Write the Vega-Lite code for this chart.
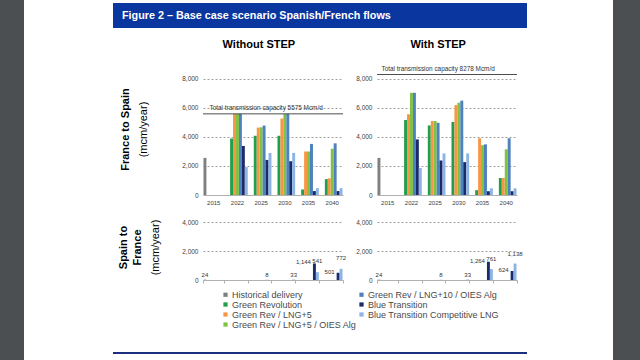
{
 "$schema": "https://vega.github.io/schema/vega-lite/v6.json",
 "background": "white",
 "padding": 0,
 "spacing": 86,
 "config": {
  "font": "Liberation Sans",
  "view": {"stroke": null},
  "title": {"font": "Liberation Sans", "color": "#000000", "fontWeight": "bold", "fontSize": 11, "subtitleFont": "Liberation Sans", "subtitleColor": "#000000", "subtitleFontSize": 11, "subtitleFontWeight": "normal", "anchor": "middle"},
  "axis": {"labelFont": "Liberation Sans", "labelColor": "#404040"},
  "legend": {"labelFont": "Liberation Sans"}
 },
 "datasets": {
  "flows": [
   {"scenario": "Without STEP", "direction": "France to Spain", "year": "2015", "series": "Historical delivery", "value": 2550},
   {"scenario": "Without STEP", "direction": "France to Spain", "year": "2022", "series": "Green Revolution", "value": 3880},
   {"scenario": "Without STEP", "direction": "France to Spain", "year": "2022", "series": "Green Rev / LNG+5", "value": 5575},
   {"scenario": "Without STEP", "direction": "France to Spain", "year": "2022", "series": "Green Rev / LNG+5 / OIES Alg", "value": 5575},
   {"scenario": "Without STEP", "direction": "France to Spain", "year": "2022", "series": "Green Rev / LNG+10 / OIES Alg", "value": 5575},
   {"scenario": "Without STEP", "direction": "France to Spain", "year": "2022", "series": "Blue Transition", "value": 3370},
   {"scenario": "Without STEP", "direction": "France to Spain", "year": "2022", "series": "Blue Transition Competitive LNG", "value": 1920},
   {"scenario": "Without STEP", "direction": "France to Spain", "year": "2025", "series": "Green Revolution", "value": 4070},
   {"scenario": "Without STEP", "direction": "France to Spain", "year": "2025", "series": "Green Rev / LNG+5", "value": 4630},
   {"scenario": "Without STEP", "direction": "France to Spain", "year": "2025", "series": "Green Rev / LNG+5 / OIES Alg", "value": 4650},
   {"scenario": "Without STEP", "direction": "France to Spain", "year": "2025", "series": "Green Rev / LNG+10 / OIES Alg", "value": 4770},
   {"scenario": "Without STEP", "direction": "France to Spain", "year": "2025", "series": "Blue Transition", "value": 2410},
   {"scenario": "Without STEP", "direction": "France to Spain", "year": "2025", "series": "Blue Transition Competitive LNG", "value": 2890},
   {"scenario": "Without STEP", "direction": "France to Spain", "year": "2030", "series": "Green Revolution", "value": 4070},
   {"scenario": "Without STEP", "direction": "France to Spain", "year": "2030", "series": "Green Rev / LNG+5", "value": 5250},
   {"scenario": "Without STEP", "direction": "France to Spain", "year": "2030", "series": "Green Rev / LNG+5 / OIES Alg", "value": 5575},
   {"scenario": "Without STEP", "direction": "France to Spain", "year": "2030", "series": "Green Rev / LNG+10 / OIES Alg", "value": 5575},
   {"scenario": "Without STEP", "direction": "France to Spain", "year": "2030", "series": "Blue Transition", "value": 2320},
   {"scenario": "Without STEP", "direction": "France to Spain", "year": "2030", "series": "Blue Transition Competitive LNG", "value": 2890},
   {"scenario": "Without STEP", "direction": "France to Spain", "year": "2035", "series": "Green Revolution", "value": 380},
   {"scenario": "Without STEP", "direction": "France to Spain", "year": "2035", "series": "Green Rev / LNG+5", "value": 2990},
   {"scenario": "Without STEP", "direction": "France to Spain", "year": "2035", "series": "Green Rev / LNG+5 / OIES Alg", "value": 2990},
   {"scenario": "Without STEP", "direction": "France to Spain", "year": "2035", "series": "Green Rev / LNG+10 / OIES Alg", "value": 3510},
   {"scenario": "Without STEP", "direction": "France to Spain", "year": "2035", "series": "Blue Transition", "value": 270},
   {"scenario": "Without STEP", "direction": "France to Spain", "year": "2035", "series": "Blue Transition Competitive LNG", "value": 470},
   {"scenario": "Without STEP", "direction": "France to Spain", "year": "2040", "series": "Green Revolution", "value": 1090},
   {"scenario": "Without STEP", "direction": "France to Spain", "year": "2040", "series": "Green Rev / LNG+5", "value": 1150},
   {"scenario": "Without STEP", "direction": "France to Spain", "year": "2040", "series": "Green Rev / LNG+5 / OIES Alg", "value": 3180},
   {"scenario": "Without STEP", "direction": "France to Spain", "year": "2040", "series": "Green Rev / LNG+10 / OIES Alg", "value": 3550},
   {"scenario": "Without STEP", "direction": "France to Spain", "year": "2040", "series": "Blue Transition", "value": 270},
   {"scenario": "Without STEP", "direction": "France to Spain", "year": "2040", "series": "Blue Transition Competitive LNG", "value": 470},

   {"scenario": "With STEP", "direction": "France to Spain", "year": "2015", "series": "Historical delivery", "value": 2550},
   {"scenario": "With STEP", "direction": "France to Spain", "year": "2022", "series": "Green Revolution", "value": 5150},
   {"scenario": "With STEP", "direction": "France to Spain", "year": "2022", "series": "Green Rev / LNG+5", "value": 5550},
   {"scenario": "With STEP", "direction": "France to Spain", "year": "2022", "series": "Green Rev / LNG+5 / OIES Alg", "value": 7020},
   {"scenario": "With STEP", "direction": "France to Spain", "year": "2022", "series": "Green Rev / LNG+10 / OIES Alg", "value": 7020},
   {"scenario": "With STEP", "direction": "France to Spain", "year": "2022", "series": "Blue Transition", "value": 3820},
   {"scenario": "With STEP", "direction": "France to Spain", "year": "2022", "series": "Blue Transition Competitive LNG", "value": 1850},
   {"scenario": "With STEP", "direction": "France to Spain", "year": "2025", "series": "Green Revolution", "value": 4780},
   {"scenario": "With STEP", "direction": "France to Spain", "year": "2025", "series": "Green Rev / LNG+5", "value": 5080},
   {"scenario": "With STEP", "direction": "France to Spain", "year": "2025", "series": "Green Rev / LNG+5 / OIES Alg", "value": 5080},
   {"scenario": "With STEP", "direction": "France to Spain", "year": "2025", "series": "Green Rev / LNG+10 / OIES Alg", "value": 4960},
   {"scenario": "With STEP", "direction": "France to Spain", "year": "2025", "series": "Blue Transition", "value": 2370},
   {"scenario": "With STEP", "direction": "France to Spain", "year": "2025", "series": "Blue Transition Competitive LNG", "value": 2860},
   {"scenario": "With STEP", "direction": "France to Spain", "year": "2030", "series": "Green Revolution", "value": 5020},
   {"scenario": "With STEP", "direction": "France to Spain", "year": "2030", "series": "Green Rev / LNG+5", "value": 6180},
   {"scenario": "With STEP", "direction": "France to Spain", "year": "2030", "series": "Green Rev / LNG+5 / OIES Alg", "value": 6340},
   {"scenario": "With STEP", "direction": "France to Spain", "year": "2030", "series": "Green Rev / LNG+10 / OIES Alg", "value": 6480},
   {"scenario": "With STEP", "direction": "France to Spain", "year": "2030", "series": "Blue Transition", "value": 2260},
   {"scenario": "With STEP", "direction": "France to Spain", "year": "2030", "series": "Blue Transition Competitive LNG", "value": 2860},
   {"scenario": "With STEP", "direction": "France to Spain", "year": "2035", "series": "Green Revolution", "value": 330},
   {"scenario": "With STEP", "direction": "France to Spain", "year": "2035", "series": "Green Rev / LNG+5", "value": 3900},
   {"scenario": "With STEP", "direction": "France to Spain", "year": "2035", "series": "Green Rev / LNG+5 / OIES Alg", "value": 3420},
   {"scenario": "With STEP", "direction": "France to Spain", "year": "2035", "series": "Green Rev / LNG+10 / OIES Alg", "value": 3480},
   {"scenario": "With STEP", "direction": "France to Spain", "year": "2035", "series": "Blue Transition", "value": 260},
   {"scenario": "With STEP", "direction": "France to Spain", "year": "2035", "series": "Blue Transition Competitive LNG", "value": 460},
   {"scenario": "With STEP", "direction": "France to Spain", "year": "2040", "series": "Green Revolution", "value": 1170},
   {"scenario": "With STEP", "direction": "France to Spain", "year": "2040", "series": "Green Rev / LNG+5", "value": 1170},
   {"scenario": "With STEP", "direction": "France to Spain", "year": "2040", "series": "Green Rev / LNG+5 / OIES Alg", "value": 3140},
   {"scenario": "With STEP", "direction": "France to Spain", "year": "2040", "series": "Green Rev / LNG+10 / OIES Alg", "value": 3900},
   {"scenario": "With STEP", "direction": "France to Spain", "year": "2040", "series": "Blue Transition", "value": 260},
   {"scenario": "With STEP", "direction": "France to Spain", "year": "2040", "series": "Blue Transition Competitive LNG", "value": 460},

   {"scenario": "Without STEP", "direction": "Spain to France", "year": "2015", "series": "Historical delivery", "value": 24},
   {"scenario": "Without STEP", "direction": "Spain to France", "year": "2025", "series": "Blue Transition", "value": 8},
   {"scenario": "Without STEP", "direction": "Spain to France", "year": "2030", "series": "Blue Transition Competitive LNG", "value": 33},
   {"scenario": "Without STEP", "direction": "Spain to France", "year": "2035", "series": "Blue Transition", "value": 1144},
   {"scenario": "Without STEP", "direction": "Spain to France", "year": "2035", "series": "Blue Transition Competitive LNG", "value": 541},
   {"scenario": "Without STEP", "direction": "Spain to France", "year": "2040", "series": "Blue Transition", "value": 501},
   {"scenario": "Without STEP", "direction": "Spain to France", "year": "2040", "series": "Blue Transition Competitive LNG", "value": 772},

   {"scenario": "With STEP", "direction": "Spain to France", "year": "2015", "series": "Historical delivery", "value": 24},
   {"scenario": "With STEP", "direction": "Spain to France", "year": "2025", "series": "Blue Transition", "value": 8},
   {"scenario": "With STEP", "direction": "Spain to France", "year": "2030", "series": "Blue Transition Competitive LNG", "value": 33},
   {"scenario": "With STEP", "direction": "Spain to France", "year": "2035", "series": "Blue Transition", "value": 1264},
   {"scenario": "With STEP", "direction": "Spain to France", "year": "2035", "series": "Blue Transition Competitive LNG", "value": 761},
   {"scenario": "With STEP", "direction": "Spain to France", "year": "2040", "series": "Blue Transition", "value": 624},
   {"scenario": "With STEP", "direction": "Spain to France", "year": "2040", "series": "Blue Transition Competitive LNG", "value": 1138}
  ]
 },
 "hconcat": [
  {
   "spacing": 89,
   "hconcat": [
    {"width": 24, "height": 360, "data": {"values": [{}]}, "mark": {"type": "point", "opacity": 0, "size": 0}, "view": {"fill": "#4b4f52", "stroke": null}},
    {
     "spacing": 2,
     "vconcat": [
      {"width": 414, "height": 1, "data": {"values": [{}]}, "mark": {"type": "point", "opacity": 0, "size": 0}},
      {
       "spacing": 11,
       "vconcat": [
        {
         "width": 414, "height": 25,
         "view": {"fill": "#0a36a0", "stroke": null},
         "data": {"values": [{"label": "Figure 2 – Base case scenario Spanish/French flows"}]},
         "mark": {"type": "text", "align": "left", "baseline": "middle", "dx": 9, "color": "#ffffff", "fontWeight": "bold", "fontSize": 10.8, "font": "Liberation Sans"},
         "encoding": {
          "text": {"field": "label"},
          "x": {"datum": 0, "type": "quantitative", "scale": {"domain": [0, 1]}, "axis": null},
          "y": {"datum": 0.5, "type": "quantitative", "scale": {"domain": [0, 1]}, "axis": null}
         }
        },
        {
         "spacing": 68,
         "vconcat": [
          {
           "spacing": 3,
           "hconcat": [
            {"width": 1, "height": 1, "data": {"values": [{}]}, "mark": {"type": "point", "opacity": 0, "size": 0}},
            {
             "spacing": 8,
             "hconcat": [
              {
               "title": {"text": "Without STEP", "anchor": "middle", "dx": 27, "offset": 14},
               "spacing": 10,
               "vconcat": [
                {
                 "width": 140, "height": 131,
                 "title": {"text": "France to Spain", "subtitle": "(mcm/year)", "orient": "left", "anchor": "middle", "offset": 33, "subtitlePadding": 6.5},
                 "layer": [
                  {
                   "data": {"name": "flows"},
                   "transform": [{"filter": "datum.scenario === 'Without STEP' && datum.direction === 'France to Spain'"}],
                   "mark": {"type": "bar"},
                   "encoding": {
                    "x": {"field": "year", "type": "nominal", "title": null, "scale": {"domain": ["2015", "2022", "2025", "2030", "2035", "2040"], "paddingInner": 0.13, "paddingOuter": 0.02}, "axis": {"labelAngle": 0, "labelFontSize": 6, "labelPadding": 4, "ticks": false, "domainColor": "#b0b0b0"}},
                    "xOffset": {"field": "series", "scale": {"domain": ["Historical delivery", "Green Revolution", "Green Rev / LNG+5", "Green Rev / LNG+5 / OIES Alg", "Green Rev / LNG+10 / OIES Alg", "Blue Transition", "Blue Transition Competitive LNG"], "paddingInner": 0}},
                    "y": {"field": "value", "type": "quantitative", "title": null, "scale": {"domain": [0, 9000]}, "axis": {"values": [0, 2000, 4000, 6000, 8000], "labelExpr": "format(datum.value, ',')", "labelFontSize": 6.5, "labelPadding": 5, "ticks": false, "domain": false, "grid": true, "gridDash": [2, 2], "gridColor": "#a0a0a0"}},
                    "color": {"field": "series", "type": "nominal", "scale": {"domain": ["Historical delivery", "Green Revolution", "Green Rev / LNG+5", "Green Rev / LNG+5 / OIES Alg", "Green Rev / LNG+10 / OIES Alg", "Blue Transition", "Blue Transition Competitive LNG"], "range": ["#808080", "#21a04b", "#f79646", "#80c342", "#4f81bd", "#1b2a6b", "#8db4e2"]}, "legend": {"title": null, "orient": "none", "legendX": 221, "legendY": 290, "columns": 2, "columnPadding": 0, "rowPadding": 0, "labelFontSize": 9, "labelColor": "#4a4a4a", "symbolType": "square", "symbolSize": 18, "symbolStrokeWidth": 0, "labelOffset": 2, "padding": 0, "labelLimit": 220}}
                   }
                  },
                  {
                   "data": {"values": [{"capacity": 5575, "label": "Total transmission capacity 5575 Mcm/d"}]},
                   "mark": {"type": "rule", "color": "#4d4d4d", "strokeWidth": 1},
                   "encoding": {"y": {"field": "capacity", "type": "quantitative", "title": null, "axis": {"values": [0, 2000, 4000, 6000, 8000], "labelExpr": "format(datum.value, ',')", "labelFontSize": 6.5, "labelPadding": 5, "ticks": false, "domain": false, "grid": true, "gridDash": [2, 2], "gridColor": "#a0a0a0"}}}
                  },
                  {
                   "data": {"values": [{"capacity": 5575, "label": "Total transmission capacity 5575 Mcm/d"}]},
                   "mark": {"type": "text", "align": "left", "baseline": "bottom", "dx": 6, "dy": -3, "fontSize": 6.4, "color": "#333333"},
                   "encoding": {"x": {"datum": "2015", "bandPosition": 0, "title": null}, "y": {"field": "capacity", "type": "quantitative", "title": null, "axis": {"values": [0, 2000, 4000, 6000, 8000], "labelExpr": "format(datum.value, ',')", "labelFontSize": 6.5, "labelPadding": 5, "ticks": false, "domain": false, "grid": true, "gridDash": [2, 2], "gridColor": "#a0a0a0"}}, "text": {"field": "label"}}
                  }
                 ]
                },
                {
                 "width": 140, "height": 65,
                 "title": {"text": ["Spain to", "France"], "subtitle": "(mcm/year)", "orient": "left", "anchor": "middle", "offset": 21, "subtitlePadding": 7, "lineHeight": 14},
                 "layer": [
                  {
                   "data": {"name": "flows"},
                   "transform": [{"filter": "datum.scenario === 'Without STEP' && datum.direction === 'Spain to France'"}],
                   "mark": {"type": "bar"},
                   "encoding": {
                    "x": {"field": "year", "type": "nominal", "title": null, "scale": {"domain": ["2015", "2022", "2025", "2030", "2035", "2040"], "paddingInner": 0.13, "paddingOuter": 0.02}, "axis": {"labels": false, "ticks": true, "tickBand": "extent", "tickSize": 3, "tickColor": "#b0b0b0", "domainColor": "#b0b0b0"}},
                    "xOffset": {"field": "series", "scale": {"domain": ["Historical delivery", "Green Revolution", "Green Rev / LNG+5", "Green Rev / LNG+5 / OIES Alg", "Green Rev / LNG+10 / OIES Alg", "Blue Transition", "Blue Transition Competitive LNG"], "paddingInner": 0}},
                    "y": {"field": "value", "type": "quantitative", "title": null, "scale": {"domain": [0, 4400]}, "axis": {"values": [0, 2000, 4000], "labelExpr": "format(datum.value, ',')", "labelFontSize": 6.5, "labelPadding": 5, "ticks": false, "domain": false, "grid": true, "gridDash": [2, 2], "gridColor": "#a0a0a0"}},
                    "color": {"field": "series", "type": "nominal", "scale": {"domain": ["Historical delivery", "Green Revolution", "Green Rev / LNG+5", "Green Rev / LNG+5 / OIES Alg", "Green Rev / LNG+10 / OIES Alg", "Blue Transition", "Blue Transition Competitive LNG"], "range": ["#808080", "#21a04b", "#f79646", "#80c342", "#4f81bd", "#1b2a6b", "#8db4e2"]}, "legend": {"title": null, "orient": "none", "legendX": 221, "legendY": 290, "columns": 2, "columnPadding": 0, "rowPadding": 0, "labelFontSize": 9, "labelColor": "#4a4a4a", "symbolType": "square", "symbolSize": 18, "symbolStrokeWidth": 0, "labelOffset": 2, "padding": 0, "labelLimit": 220}}
                   }
                  },
                  {
                   "data": {"name": "flows"},
                   "transform": [{"filter": "datum.scenario === 'Without STEP' && datum.direction === 'Spain to France' && datum.value < 100"}],
                   "mark": {"type": "text", "align": "center", "baseline": "bottom", "dy": -2, "fontSize": 6, "color": "#333333"},
                   "encoding": {"x": {"field": "year", "type": "nominal", "title": null}, "xOffset": {"field": "series"}, "y": {"field": "value", "type": "quantitative", "title": null, "axis": {"values": [0, 2000, 4000], "labelExpr": "format(datum.value, ',')", "labelFontSize": 6.5, "labelPadding": 5, "ticks": false, "domain": false, "grid": true, "gridDash": [2, 2], "gridColor": "#a0a0a0"}}, "text": {"field": "value", "type": "quantitative", "format": ","}}
                  },
                  {
                   "data": {"name": "flows"},
                   "transform": [{"filter": "datum.scenario === 'Without STEP' && datum.direction === 'Spain to France' && datum.value >= 100 && datum.series === 'Blue Transition'"}],
                   "mark": {"type": "text", "align": "right", "baseline": "middle", "dx": -3.5, "dy": -1, "fontSize": 6, "color": "#333333"},
                   "encoding": {"x": {"field": "year", "type": "nominal", "title": null}, "xOffset": {"field": "series"}, "y": {"field": "value", "type": "quantitative", "title": null, "axis": {"values": [0, 2000, 4000], "labelExpr": "format(datum.value, ',')", "labelFontSize": 6.5, "labelPadding": 5, "ticks": false, "domain": false, "grid": true, "gridDash": [2, 2], "gridColor": "#a0a0a0"}}, "text": {"field": "value", "type": "quantitative", "format": ","}}
                  },
                  {
                   "data": {"name": "flows"},
                   "transform": [{"filter": "datum.scenario === 'Without STEP' && datum.direction === 'Spain to France' && datum.value >= 100 && datum.series === 'Blue Transition Competitive LNG'"}],
                   "mark": {"type": "text", "align": "center", "baseline": "bottom", "dy": -8, "fontSize": 6, "color": "#333333"},
                   "encoding": {"x": {"field": "year", "type": "nominal", "title": null}, "xOffset": {"field": "series"}, "y": {"field": "value", "type": "quantitative", "title": null, "axis": {"values": [0, 2000, 4000], "labelExpr": "format(datum.value, ',')", "labelFontSize": 6.5, "labelPadding": 5, "ticks": false, "domain": false, "grid": true, "gridDash": [2, 2], "gridColor": "#a0a0a0"}}, "text": {"field": "value", "type": "quantitative", "format": ","}}
                  }
                 ]
                }
               ]
              },
              {
               "title": {"text": "With STEP", "anchor": "middle", "dx": -1, "offset": 14},
               "spacing": 10,
               "vconcat": [
                {
                 "width": 140, "height": 131,
                 "layer": [
                  {
                   "data": {"name": "flows"},
                   "transform": [{"filter": "datum.scenario === 'With STEP' && datum.direction === 'France to Spain'"}],
                   "mark": {"type": "bar"},
                   "encoding": {
                    "x": {"field": "year", "type": "nominal", "title": null, "scale": {"domain": ["2015", "2022", "2025", "2030", "2035", "2040"], "paddingInner": 0.13, "paddingOuter": 0.02}, "axis": {"labelAngle": 0, "labelFontSize": 6, "labelPadding": 4, "ticks": false, "domainColor": "#b0b0b0"}},
                    "xOffset": {"field": "series", "scale": {"domain": ["Historical delivery", "Green Revolution", "Green Rev / LNG+5", "Green Rev / LNG+5 / OIES Alg", "Green Rev / LNG+10 / OIES Alg", "Blue Transition", "Blue Transition Competitive LNG"], "paddingInner": 0}},
                    "y": {"field": "value", "type": "quantitative", "title": null, "scale": {"domain": [0, 9000]}, "axis": {"values": [0, 2000, 4000, 6000, 8000], "labelExpr": "format(datum.value, ',')", "labelFontSize": 6.5, "labelPadding": 5, "ticks": false, "domain": false, "grid": true, "gridDash": [2, 2], "gridColor": "#a0a0a0"}},
                    "color": {"field": "series", "type": "nominal", "scale": {"domain": ["Historical delivery", "Green Revolution", "Green Rev / LNG+5", "Green Rev / LNG+5 / OIES Alg", "Green Rev / LNG+10 / OIES Alg", "Blue Transition", "Blue Transition Competitive LNG"], "range": ["#808080", "#21a04b", "#f79646", "#80c342", "#4f81bd", "#1b2a6b", "#8db4e2"]}, "legend": {"title": null, "orient": "none", "legendX": 221, "legendY": 290, "columns": 2, "columnPadding": 0, "rowPadding": 0, "labelFontSize": 9, "labelColor": "#4a4a4a", "symbolType": "square", "symbolSize": 18, "symbolStrokeWidth": 0, "labelOffset": 2, "padding": 0, "labelLimit": 220}}
                   }
                  },
                  {
                   "data": {"values": [{"capacity": 8278, "label": "Total transmission capacity 8278 Mcm/d"}]},
                   "mark": {"type": "rule", "color": "#4d4d4d", "strokeWidth": 1},
                   "encoding": {"y": {"field": "capacity", "type": "quantitative", "title": null, "axis": {"values": [0, 2000, 4000, 6000, 8000], "labelExpr": "format(datum.value, ',')", "labelFontSize": 6.5, "labelPadding": 5, "ticks": false, "domain": false, "grid": true, "gridDash": [2, 2], "gridColor": "#a0a0a0"}}}
                  },
                  {
                   "data": {"values": [{"capacity": 8278, "label": "Total transmission capacity 8278 Mcm/d"}]},
                   "mark": {"type": "text", "align": "left", "baseline": "bottom", "dx": 4, "dy": -3, "fontSize": 6.4, "color": "#333333"},
                   "encoding": {"x": {"datum": "2015", "bandPosition": 0, "title": null}, "y": {"field": "capacity", "type": "quantitative", "title": null, "axis": {"values": [0, 2000, 4000, 6000, 8000], "labelExpr": "format(datum.value, ',')", "labelFontSize": 6.5, "labelPadding": 5, "ticks": false, "domain": false, "grid": true, "gridDash": [2, 2], "gridColor": "#a0a0a0"}}, "text": {"field": "label"}}
                  }
                 ]
                },
                {
                 "width": 140, "height": 65,
                 "layer": [
                  {
                   "data": {"name": "flows"},
                   "transform": [{"filter": "datum.scenario === 'With STEP' && datum.direction === 'Spain to France'"}],
                   "mark": {"type": "bar"},
                   "encoding": {
                    "x": {"field": "year", "type": "nominal", "title": null, "scale": {"domain": ["2015", "2022", "2025", "2030", "2035", "2040"], "paddingInner": 0.13, "paddingOuter": 0.02}, "axis": {"labels": false, "ticks": true, "tickBand": "extent", "tickSize": 3, "tickColor": "#b0b0b0", "domainColor": "#b0b0b0"}},
                    "xOffset": {"field": "series", "scale": {"domain": ["Historical delivery", "Green Revolution", "Green Rev / LNG+5", "Green Rev / LNG+5 / OIES Alg", "Green Rev / LNG+10 / OIES Alg", "Blue Transition", "Blue Transition Competitive LNG"], "paddingInner": 0}},
                    "y": {"field": "value", "type": "quantitative", "title": null, "scale": {"domain": [0, 4400]}, "axis": {"values": [0, 2000, 4000], "labelExpr": "format(datum.value, ',')", "labelFontSize": 6.5, "labelPadding": 5, "ticks": false, "domain": false, "grid": true, "gridDash": [2, 2], "gridColor": "#a0a0a0"}},
                    "color": {"field": "series", "type": "nominal", "scale": {"domain": ["Historical delivery", "Green Revolution", "Green Rev / LNG+5", "Green Rev / LNG+5 / OIES Alg", "Green Rev / LNG+10 / OIES Alg", "Blue Transition", "Blue Transition Competitive LNG"], "range": ["#808080", "#21a04b", "#f79646", "#80c342", "#4f81bd", "#1b2a6b", "#8db4e2"]}, "legend": {"title": null, "orient": "none", "legendX": 221, "legendY": 290, "columns": 2, "columnPadding": 0, "rowPadding": 0, "labelFontSize": 9, "labelColor": "#4a4a4a", "symbolType": "square", "symbolSize": 18, "symbolStrokeWidth": 0, "labelOffset": 2, "padding": 0, "labelLimit": 220}}
                   }
                  },
                  {
                   "data": {"name": "flows"},
                   "transform": [{"filter": "datum.scenario === 'With STEP' && datum.direction === 'Spain to France' && datum.value < 100"}],
                   "mark": {"type": "text", "align": "center", "baseline": "bottom", "dy": -2, "fontSize": 6, "color": "#333333"},
                   "encoding": {"x": {"field": "year", "type": "nominal", "title": null}, "xOffset": {"field": "series"}, "y": {"field": "value", "type": "quantitative", "title": null, "axis": {"values": [0, 2000, 4000], "labelExpr": "format(datum.value, ',')", "labelFontSize": 6.5, "labelPadding": 5, "ticks": false, "domain": false, "grid": true, "gridDash": [2, 2], "gridColor": "#a0a0a0"}}, "text": {"field": "value", "type": "quantitative", "format": ","}}
                  },
                  {
                   "data": {"name": "flows"},
                   "transform": [{"filter": "datum.scenario === 'With STEP' && datum.direction === 'Spain to France' && datum.value >= 100 && datum.series === 'Blue Transition'"}],
                   "mark": {"type": "text", "align": "right", "baseline": "middle", "dx": -3.5, "dy": -1, "fontSize": 6, "color": "#333333"},
                   "encoding": {"x": {"field": "year", "type": "nominal", "title": null}, "xOffset": {"field": "series"}, "y": {"field": "value", "type": "quantitative", "title": null, "axis": {"values": [0, 2000, 4000], "labelExpr": "format(datum.value, ',')", "labelFontSize": 6.5, "labelPadding": 5, "ticks": false, "domain": false, "grid": true, "gridDash": [2, 2], "gridColor": "#a0a0a0"}}, "text": {"field": "value", "type": "quantitative", "format": ","}}
                  },
                  {
                   "data": {"name": "flows"},
                   "transform": [{"filter": "datum.scenario === 'With STEP' && datum.direction === 'Spain to France' && datum.value >= 100 && datum.series === 'Blue Transition Competitive LNG'"}],
                   "mark": {"type": "text", "align": "center", "baseline": "bottom", "dy": -7, "fontSize": 6, "color": "#333333"},
                   "encoding": {"x": {"field": "year", "type": "nominal", "title": null}, "xOffset": {"field": "series"}, "y": {"field": "value", "type": "quantitative", "title": null, "axis": {"values": [0, 2000, 4000], "labelExpr": "format(datum.value, ',')", "labelFontSize": 6.5, "labelPadding": 5, "ticks": false, "domain": false, "grid": true, "gridDash": [2, 2], "gridColor": "#a0a0a0"}}, "text": {"field": "value", "type": "quantitative", "format": ","}}
                  }
                 ]
                }
               ]
              }
             ]
            }
           ]
          },
          {"width": 414, "height": 2, "data": {"values": [{}]}, "mark": {"type": "point", "opacity": 0, "size": 0}, "view": {"fill": "#1b2f7e", "stroke": null}}
         ]
        }
       ]
      }
     ]
    }
   ]
  },
  {"width": 27, "height": 360, "data": {"values": [{}]}, "mark": {"type": "point", "opacity": 0, "size": 0}, "view": {"fill": "#4b4f52", "stroke": null}}
 ]
}
